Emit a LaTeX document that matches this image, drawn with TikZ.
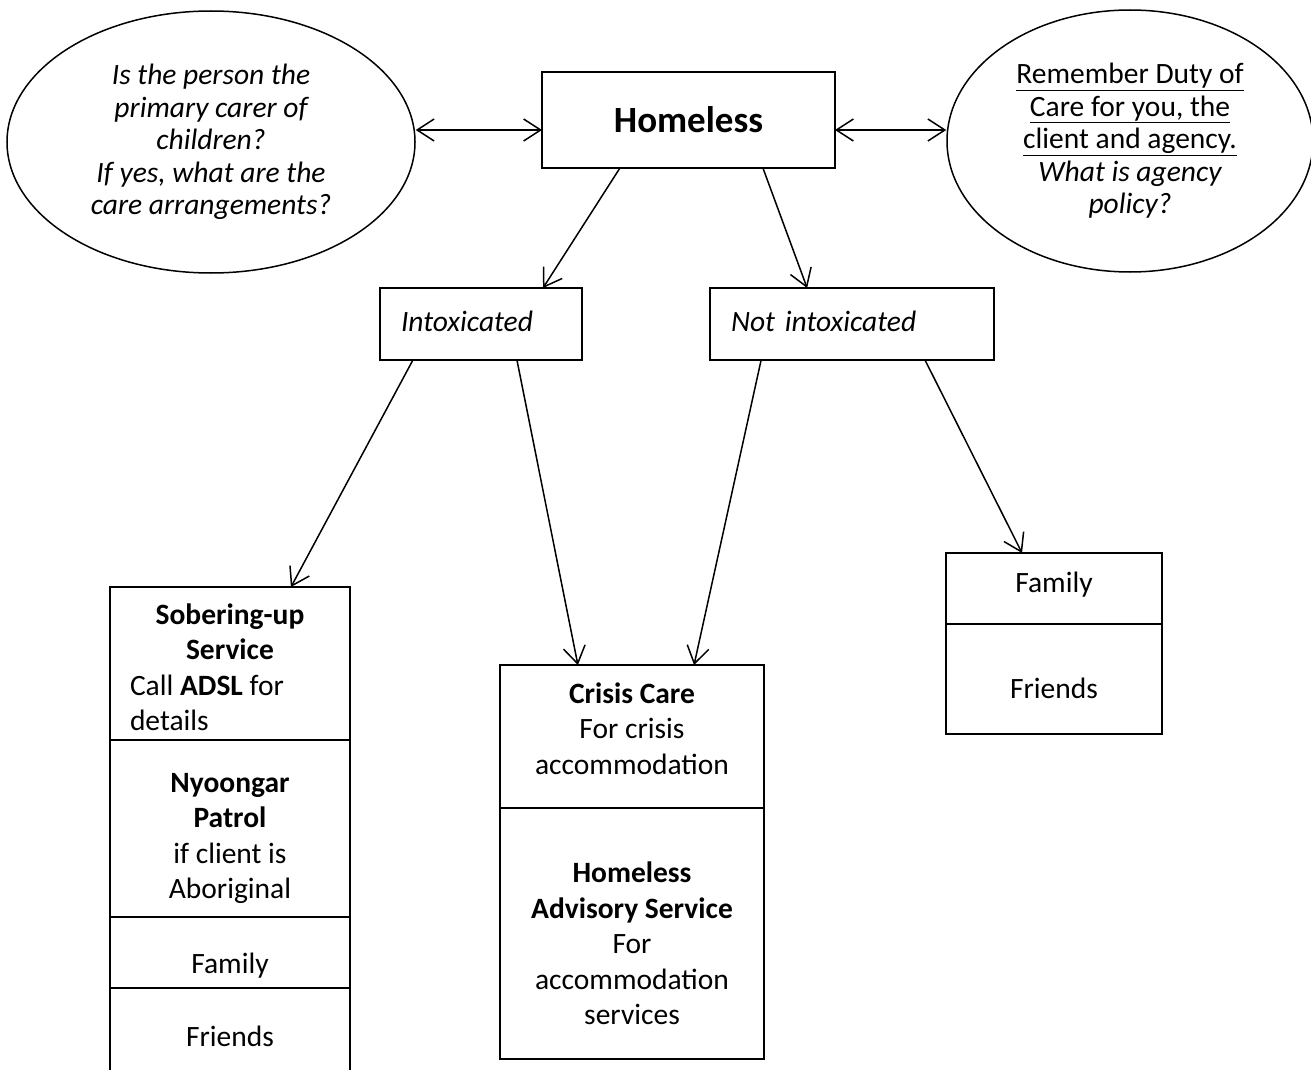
\documentclass[tikz,border=0pt]{standalone}
\usepackage{fontspec}
\setmainfont{Carlito}
\usetikzlibrary{shapes.geometric,positioning,calc,arrows.meta}

% lower (or raise) the lines of a cell without changing its box
\newcommand{\cellshift}[2]{\raisebox{#1}[\height][\depth]{\begin{tabular}{@{}c@{}}#2\end{tabular}}}

\tikzset{
  txt/.style={font=\fontsize{29.5}{35.5}\selectfont},
  cell/.style={draw,txt,align=center,outer sep=0pt,inner sep=0pt,minimum width=#1},
  oval/.style={draw,ellipse,inner sep=0pt,align=center,font=\fontsize{29.5}{32.5}\selectfont\itshape},
  arr/.style={-{Straight Barb[length=17pt,width=22pt]}},
  dbl/.style={{Straight Barb[length=17pt,width=22pt]}-{Straight Barb[length=17pt,width=22pt]}},
}

\begin{document}
\begin{tikzpicture}[x=1pt,y=-1pt,line width=1.5pt]
    \clip (0,0) rectangle (1311,1070);
    % top row
    \node[oval,minimum width=408,minimum height=262] (carer) at (211,142)
      {Is the person the\\primary carer of\\children?\\If yes, what are the\\care arrangements?};
    \node[oval,minimum width=366,minimum height=262] (duty) at (1130,141)
      {\upshape\underline{Remember Duty of}\\\upshape\underline{Care for you, the}\\\upshape\underline{client and agency.}\\What is agency\\policy?};
    \node[cell=293,minimum height=96,anchor=north west,font=\fontsize{37}{44}\selectfont\bfseries] (home) at (542,72) {Homeless};
    \coordinate (hl) at ($(home.west)+(0,10)$);
    \coordinate (hr) at ($(home.east)+(0,10)$);
    \draw[dbl] (carer.east |- hl) -- (hl);
    \draw[dbl] (hr) -- (duty.west |- hr);

    % second row
    \node[cell=202,minimum height=72,anchor=north west,text width=160,align=left,font=\fontsize{29.5}{35.5}\selectfont\itshape] (intox) at (380,288) {\raisebox{3pt}[\height][\depth]{Intoxicated}};
    \node[cell=284,minimum height=72,anchor=north west,text width=242,align=left,font=\fontsize{29.5}{35.5}\selectfont\itshape] (sober) at (710,288) {\raisebox{3pt}[\height][\depth]{Not intoxicated}};
    \draw[arr] ($(home.south west)!0.266!(home.south east)$) -- ($(intox.north west)!0.807!(intox.north east)$);
    \draw[arr] ($(home.south west)!0.754!(home.south east)$) -- ($(sober.north west)!0.342!(sober.north east)$);

    % left stack
    \node[cell=240,minimum height=153,anchor=north west] (sobering) at (110,587)
      {\cellshift{-7pt}{\textbf{Sobering-up}\\\textbf{Service}\\\makebox[200pt][l]{Call \textbf{ADSL} for}\\\makebox[200pt][l]{details}}};
    \node[cell=240,minimum height=177,below=0pt of sobering] (patrol)
      {\cellshift{-10pt}{\textbf{Nyoongar}\\\textbf{Patrol}\\if client is\\Aboriginal}};
    \node[cell=240,minimum height=71,below=0pt of patrol] (lfamily) {\raisebox{-13pt}[\height][\depth]{Family}};
    \node[cell=240,minimum height=96,below=0pt of lfamily] (lfriends) {Friends};

    % middle stack
    \node[cell=264,minimum height=143,anchor=north west] (crisis) at (500,665)
      {\cellshift{5pt}{\textbf{Crisis Care}\\For crisis\\accommodation}};
    \node[cell=264,minimum height=251,below=0pt of crisis] (advisory)
      {\cellshift{-13pt}{\textbf{Homeless}\\\textbf{Advisory Service}\\For\\accommodation\\services}};

    % right stack
    \node[cell=216,minimum height=71,anchor=north west] (rfamily) at (946,553) {\raisebox{4pt}[\height][\depth]{Family}};
    \node[cell=216,minimum height=110,below=0pt of rfamily] (rfriends) {\raisebox{-9pt}[\height][\depth]{Friends}};

    \draw[arr] ($(intox.south west)!0.163!(intox.south east)$) -- ($(sobering.north west)!0.754!(sobering.north east)$);
    \draw[arr] ($(intox.south west)!0.678!(intox.south east)$) -- ($(crisis.north west)!0.295!(crisis.north east)$);
    \draw[arr] ($(sober.south west)!0.18!(sober.south east)$) -- ($(crisis.north west)!0.735!(crisis.north east)$);
    \draw[arr] ($(sober.south west)!0.757!(sober.south east)$) -- ($(rfamily.north west)!0.352!(rfamily.north east)$);
\end{tikzpicture}
\end{document}
